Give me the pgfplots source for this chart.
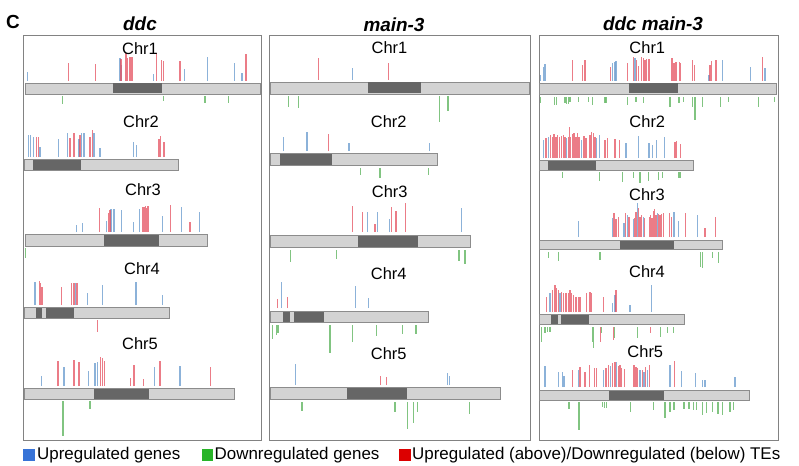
\documentclass[border=0pt]{standalone}
\usepackage{pgfplots}
\pgfplotsset{compat=1.18}
\usepackage{fontspec}
\setmainfont{Liberation Sans}
\definecolor{upblue}{RGB}{120,165,210}
\definecolor{upred}{RGB}{228,80,95}
\definecolor{dngreen}{RGB}{115,190,115}
\definecolor{barlight}{RGB}{211,211,211}
\definecolor{bardark}{RGB}{102,102,102}
\definecolor{bardraw}{RGB}{140,140,140}
\definecolor{boxgray}{RGB}{130,130,130}
\definecolor{legblue}{RGB}{55,115,215}
\definecolor{leggreen}{RGB}{40,180,40}
\definecolor{legred}{RGB}{220,0,0}
\newcommand{\chrom}[4]{\addplot[fill=barlight,draw=bardraw,line width=0.8pt] coordinates {(#1,#3) (#2,#3) (#2,#4) (#1,#4)} -- cycle;}
\newcommand{\cen}[4]{\addplot[fill=bardark,draw=none] coordinates {(#1,#3) (#2,#3) (#2,#4) (#1,#4)} -- cycle;}
\newcommand{\pbox}[4]{\addplot[draw=boxgray,line width=0.9pt] coordinates {(#1,#3) (#2,#3) (#2,#4) (#1,#4)} -- cycle;}
\newcommand{\lsq}[5]{\addplot[fill=#5,draw=none] coordinates {(#1,#3) (#2,#3) (#2,#4) (#1,#4)} -- cycle;}
\pgfplotsset{spike/.style={quiver={u=0,v=\thisrow{t}-\thisrow{b}},line width=1.35bp}}
\newcommand{\chrfont}{\fontsize{16.5}{19}\selectfont}
\begin{document}
\begin{tikzpicture}
\begin{axis}[width=799bp,height=466bp,scale only axis,xmin=0,xmax=799,ymin=0,ymax=466,y dir=reverse,hide axis,clip=false]
\addplot[draw=none,forget plot] coordinates {(0,0) (799,466)};
% panel boxes
\pbox{23}{261}{35}{440}
\pbox{269}{530}{35}{440}
\pbox{539}{778}{35}{440}
% chromosomes
\chrom{25}{260}{83}{94} \cen{113}{162}{83.5}{93.5}
\chrom{24}{178}{159}{170} \cen{33}{81}{159.5}{169.5}
\chrom{25}{207}{234}{246} \cen{104}{159}{234.5}{245.5}
\chrom{24}{169}{307}{318} \cen{35.7}{42.3}{307.5}{317.5} \cen{46}{74}{307.5}{317.5}
\chrom{24}{234}{388}{399} \cen{94}{149}{388.5}{398.5}
\chrom{270}{529}{82}{94} \cen{367.7}{421}{82.5}{93.5}
\chrom{270}{437.7}{153}{165} \cen{280}{331.7}{153.5}{164.5}
\chrom{270}{470}{235}{247} \cen{357.7}{417.7}{235.5}{246.5}
\chrom{270.7}{428.3}{311}{322} \cen{282.7}{290}{311.5}{321.5} \cen{294}{324.3}{311.5}{321.5}
\chrom{270}{500}{387}{399} \cen{346.7}{406.7}{387.5}{398.5}
\chrom{539.3}{776.7}{83}{94} \cen{629}{677.7}{83.5}{93.5}
\chrom{539.3}{693.3}{160}{170} \cen{548.3}{595.7}{160.5}{169.5}
\chrom{539.3}{722.3}{240}{249} \cen{620}{674.3}{240.5}{248.5}
\chrom{539.3}{684.3}{314}{324} \cen{551}{557.7}{314.5}{323.5} \cen{561}{589}{314.5}{323.5}
\chrom{539.3}{749.3}{390}{400} \cen{609.3}{664.3}{390.5}{399.5}
% upregulated genes (blue)
\addplot[spike,draw=upblue,opacity=0.85] table {
x b t
27.7 81 71.7
120 81 58.3
121.7 81 65
153.3 81 74
184.7 81 69
207.3 81 57.3
234.3 81 63.3
242 81 73.3
28.3 157 135
30.7 157 135
33.3 157 136.7
40 157 146.7
58.3 157 139.3
67.7 157 133.3
79 157 139.3
81.7 157 133.3
84 157 132.7
94 157 132.7
100 157 148.3
133.3 157 141.7
136.7 157 145
76.7 232 225
82.3 232 223.3
106.7 232 220.7
111 232 209.3
114 232 209.3
121.7 232 210
133.3 232 221.7
139.3 232 209.3
162.3 232 216
181.7 232 207.3
199.3 232 211.7
35 305 281.7
75.3 305 283.3
87.7 305 292.7
102.3 305 285
136 305 281.7
162.3 305 295
41.3 386 376
64 386 367.3
88.3 386 371
95 386 363.3
97.3 386 361.7
154.3 386 367.3
180 386 366
352.3 80 67.7
283.3 151 136.7
307 151 132.3
349 151 143.3
429.3 151 143.3
367.3 232 211.7
377.3 232 211.7
389.3 232 219.3
461.3 232 207.7
281.7 308 282.3
355.7 308 286
368.7 308 297.5
295.7 385 364
447.7 385 373.3
449.7 385 376
540.7 81 75
543.3 81 66.7
545 81 64
612.7 81 63.3
615 81 61.7
616 81 61
635 81 58.3
709 81 75
722.7 81 60
750.7 81 66.7
765 81 68.3
543.3 158 140
548.3 158 136.7
566.7 158 138.3
581.7 158 140
596.7 158 138.3
599.3 158 135
626 158 142.7
638.3 158 136
649 158 142.7
652.7 158 145
656.7 158 140
664.3 158 136.7
578.3 237 220.7
612.7 237 218.3
624 237 223.3
627.3 237 215
633.3 237 219.3
637.3 237 203.3
643.3 237 216.7
657.3 237 212.7
674 237 211.7
678.7 237 220.7
697.3 237 215
550 312 293.3
560 312 292.7
612.7 312 303
615 312 295
630 312 305
651.7 312 285
545 387 366
558.3 387 371.7
562.3 387 371.7
564 387 376
578.3 387 370
603.3 387 370
610.7 387 366
616.7 387 361.7
640 387 370
644 387 371.7
647.3 387 370
670 387 365
681.7 387 371
695.7 387 373.3
702.7 387 380
705 387 380
735 387 377.3
};
% TEs (red)
\addplot[spike,draw=upred,opacity=0.75] table {
x b t
68.3 81 62.7
95.7 81 64
121 81 59.3
126 81 53.3
127.7 81 58.3
129.3 81 57.3
131 81 57.3
132.3 81 57.3
156.7 81 53.3
161.3 81 60
163.3 81 61
180 81 60.7
246 81 54
36.7 157 136.7
38.3 157 137.3
70 157 138.3
74 157 133.3
80 157 135
90 157 136.7
92.7 157 130
159 157 139.3
160.7 157 136
164 157 141.7
99.3 232 208.3
108.7 232 213.3
110 232 210
142.7 232 206.7
144 232 207.3
145.7 232 206
146.7 232 208.3
148 232 206
170.7 232 205
190 232 221.7
39.3 305 281
40.7 305 283.3
42 305 286.7
61.7 305 286.7
71.3 305 283.3
74 305 283.3
77 305 283.3
58 386 361
74 386 360
79 386 361.7
100.7 386 357.3
102.3 386 358.3
104.3 386 361
130.7 386 378.3
134 386 365
143.7 386 379.3
160 386 361
210.3 386 367.3
97.7 320 331.7
318.3 80 58.3
388.3 80 63.3
328.7 151 134.3
352.7 232 206
362.7 232 212.3
375 232 224
391.7 232 207.3
396 232 211
405.7 232 202.7
277.7 308 299.3
287.7 308 297.3
380.7 385 376
386.7 385 377.3
572.7 81 60
582.7 81 65
585 81 60
610.7 81 66.7
627.7 81 63.3
633.3 81 57.3
636.7 81 60
638.3 81 66
641.7 81 57.3
643.3 81 58.3
645 81 60
646.7 81 59.3
648.3 81 59.3
649.3 81 59.3
672 81 58.3
674 81 63.3
676 81 62.3
679.3 81 61.7
680.7 81 63.3
692.3 81 60
694.3 81 65
710 81 65
711.7 81 61
716 81 60
762.3 81 57.3
546 158 138.3
550.7 158 135
552.7 158 136.7
554 158 134
556 158 136.7
557.3 158 135
559.3 158 137.3
561.7 158 136
563.3 158 135
565 158 137.3
568.3 158 136.7
569.3 158 126.7
570.7 158 137.3
572.7 158 134
574 158 132.7
576 158 136.7
577.3 158 133.3
579 158 136.7
584 158 136
586 158 138.3
590 158 135
591.7 158 131.7
593.3 158 133.3
595 158 136.7
605 158 140
607.3 158 138.3
615 158 139.3
619.3 158 140
675 158 141.7
676.7 158 140.7
680.7 158 144
614 237 213.3
616 237 219.3
618.3 237 216.7
625.7 237 213.3
629 237 216.7
634.7 237 218.3
636 237 211.7
638.7 237 208.3
640 237 216.7
641.7 237 215
644.7 237 218.3
649.3 237 216.7
650.7 237 215
652 237 218.3
653.3 237 210.7
654.7 237 209.3
656 237 215
658.7 237 214
660 237 215
661.7 237 214
663.3 237 213.3
669.3 237 212.7
671.7 237 216.7
685.3 237 213.3
705 237 228.3
715.7 237 217.3
546.7 312 296.7
552.7 312 290
555 312 285
556.7 312 288.3
558.3 312 290
561.7 312 291.7
563.3 312 293.3
566 312 293.3
568.3 312 292.7
570 312 290
571.7 312 293.3
573.3 312 295
576 312 296.7
578.3 312 296.7
580 312 296.7
586.7 312 293.3
590 312 291.7
591.7 312 293.3
603.3 312 296.7
616 312 290
600.7 327 341.7
613.3 327 340
650.7 327 333.3
572.7 387 370
580 387 366.7
585 387 371.7
589.3 387 365
594.3 387 368.3
596.7 387 368.3
606 387 368.3
608.3 387 365
612.7 387 363.3
615 387 361.7
618.3 387 366
620 387 365
621.7 387 368.3
624.3 387 369.3
634 387 365
636 387 366.7
637.7 387 368.3
642.3 387 370
645.7 387 366.7
649.3 387 365
674.3 387 361
};
% downregulated genes (green)
\addplot[spike,draw=dngreen,opacity=0.9] table {
x b t
62.7 96 104
163.3 96 101
205 96 102.7
228.3 96 102.7
25.5 248 258
63 401 435.7
90 401 409
288.3 96 106.7
298.3 96 108
439.7 96 121.7
448 96 111
360.7 168 175
380 168 178.3
428.7 168 175
290.7 250 261.7
336.7 250 259
459 250 260.7
465 250 264.3
272.3 325 339.3
276.7 325 335
278 325 333.3
330 325 353.3
352.3 325 342.3
376.7 325 336
402.7 325 334.3
416 325 334.3
302 402 411
395 402 411.7
407.7 402 429.3
413.3 402 423.3
417.3 402 411.7
469.7 402 414.3
540.7 97 103.3
554.3 97 105
556.7 97 105
565 97 103.3
566.7 97 104
568.3 97 104
570 97 101.7
578.3 97 101.7
588.3 97 101.7
592.3 97 105
605 97 103.3
606 97 102.7
627.7 97 105
636 97 101.7
643.3 97 103.3
670 97 106.7
679 97 103.3
683.7 97 101.7
692.7 97 106.7
695 97 120
702.3 97 106.7
720.7 97 106.7
728.7 97 101.7
758.7 97 106.7
774.3 97 101.7
562.3 172 178.3
599.3 172 181
622.3 172 181.7
633.3 172 178.3
640 172 183.3
648.7 172 181
658.3 172 180
662.7 172 178.3
679 172 178.3
680.7 172 177.7
548.3 252 258.3
558.3 252 260.7
600 252 260
700.7 252 266.7
702.3 252 268.3
712.7 252 258.3
718.3 252 263.3
541.7 327 341.7
545 327 333.3
547.3 327 331.7
550 327 331.7
592.3 327 341.7
593.3 327 348.3
601.7 327 333.3
614.3 327 338.3
637.3 327 338.3
660.7 327 336.7
667.3 327 333.3
673.3 327 333.3
569 402 409.3
579 402 430
602.3 402 407.3
604.3 402 408.3
606.7 402 408.3
630.7 402 411.7
653.3 402 410
665 402 418.3
670 402 411.7
674 402 410
684 402 409.3
689 402 409.3
693.3 402 410
696.7 402 410
702.7 402 415
706.7 402 412.7
712.3 402 411.7
718 402 414
722.7 402 415
730 402 411.7
733.7 402 410
};
% legend squares
\lsq{23}{35}{449}{461}{legblue}
\lsq{202}{213}{449}{461}{leggreen}
\lsq{399}{411}{449}{461}{legred}
% texts
\node[font=\fontsize{19}{22}\selectfont\bfseries] at (axis cs:13,21.5) {C};
\node[font=\fontsize{19}{22}\selectfont\bfseries\itshape] at (axis cs:140,23.5) {ddc};
\node[font=\fontsize{19}{22}\selectfont\bfseries\itshape] at (axis cs:394,24.5) {main-3};
\node[font=\fontsize{19}{22}\selectfont\bfseries\itshape] at (axis cs:653,24) {ddc main-3};
\node[font=\chrfont] at (axis cs:140,49) {Chr1};
\node[font=\chrfont] at (axis cs:141,121.7) {Chr2};
\node[font=\chrfont] at (axis cs:143,190) {Chr3};
\node[font=\chrfont] at (axis cs:142,268.8) {Chr4};
\node[font=\chrfont] at (axis cs:140,343.8) {Chr5};
\node[font=\chrfont] at (axis cs:389.5,47.5) {Chr1};
\node[font=\chrfont] at (axis cs:388.7,121.7) {Chr2};
\node[font=\chrfont] at (axis cs:389.7,191.7) {Chr3};
\node[font=\chrfont] at (axis cs:388.7,273.3) {Chr4};
\node[font=\chrfont] at (axis cs:388.7,353.3) {Chr5};
\node[font=\chrfont] at (axis cs:647.3,47.5) {Chr1};
\node[font=\chrfont] at (axis cs:647.3,121.7) {Chr2};
\node[font=\chrfont] at (axis cs:647,195) {Chr3};
\node[font=\chrfont] at (axis cs:647,271.7) {Chr4};
\node[font=\chrfont] at (axis cs:645.3,351.7) {Chr5};
\node[font=\fontsize{17}{20}\selectfont,anchor=west,inner sep=0pt] at (axis cs:37,455) {Upregulated genes};
\node[font=\fontsize{17}{20}\selectfont,anchor=west,inner sep=0pt] at (axis cs:214.5,455) {Downregulated genes};
\node[font=\fontsize{17}{20}\selectfont,anchor=west,inner sep=0pt] at (axis cs:412,455) {Upregulated (above)/Downregulated (below) TEs};
\end{axis}
\end{tikzpicture}
\end{document}
